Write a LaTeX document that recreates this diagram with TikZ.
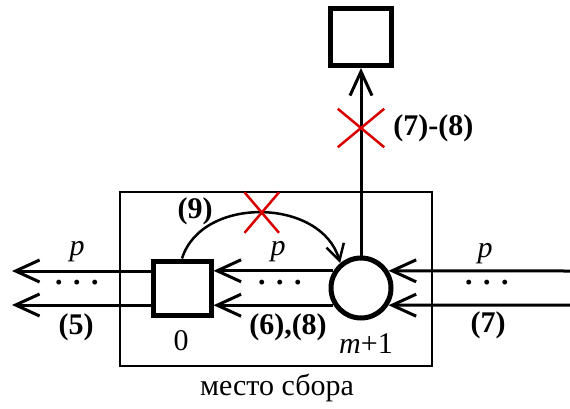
\documentclass[tikz,border=0pt]{standalone}
\usepackage{fontspec}
\setmainfont{Liberation Serif}
\usetikzlibrary{positioning,arrows.meta,shapes.misc}

\tikzset{
  unit/.style={draw, line width=5pt, minimum width=58pt, minimum height=54pt, inner sep=0pt},
  sinkc/.style={draw, circle, line width=5pt, minimum size=60pt, inner sep=0pt},
  flow/.style={line width=3pt, -{Straight Barb[length=24pt,width=22pt,line width=3pt]}},
  hop/.style={line width=2.5pt, -{Straight Barb[length=16pt,width=18pt,line width=2.5pt]}},
  ban/.style={cross out, draw=red!85!black, line width=2.5pt, minimum width=40pt, minimum height=36pt, inner sep=0pt},
  lbl/.style={font=\fontsize{30}{34}\selectfont\bfseries, inner sep=1pt},
  txt/.style={font=\fontsize{30}{34}\selectfont, inner sep=1pt},
}

\begin{document}
\begin{tikzpicture}[x=1pt, y=-1pt]
\useasboundingbox (0,0) rectangle (570,408);
% place
\node[draw, line width=2.5pt, minimum width=312pt, minimum height=174pt] (place) at (276,279) {};
\node[txt] (placename) at (277,388) {место сбора};
% nodes
\node[unit] (sq0) at (182,288) {};
\node[sinkc] (sink) at (361,288) {};
\node[unit, minimum width=61pt, minimum height=57pt] (top) at (361,37) {};
% free ends
\coordinate (outU) at (12,271);
\coordinate (outL) at (12,305);
\coordinate (inU) at (570,271);
\coordinate (inL) at (570,305);
% arrows
\draw[flow] (inU) -- (sink.32);
\draw[flow] (inL) -- (sink.-32);
\draw[flow] (sink.148) -- (sink.148 -| sq0.east);
\draw[flow] (sink.212) -- (sink.212 -| sq0.east);
\draw[flow] (sq0.west |- outU) -- (outU);
\draw[flow] (sq0.west |- outL) -- (outL);
\draw[flow] (sink.north) -- (top.south) node[ban, minimum width=44pt, pos=0.68] (stop) {};
\draw[hop] (sq0.north) .. controls (202,195) and (322,198) .. (sink.130) node[ban, minimum width=32pt, minimum height=38pt, pos=0.5] (skip) {};
% labels
\node[lbl, right=8pt of stop] {(7)-(8)};
\node[lbl] at (195,211) {(9)};
\node[txt] at (77,252) {\textit{p}};
\node[txt] at (278,252) {\textit{p}};
\node[txt] at (485,254) {\textit{p}};
\node[lbl] at (77,286) {·\hspace{8pt}·\hspace{8pt}·};
\node[lbl] at (280,286) {·\hspace{8pt}·\hspace{8pt}·};
\node[lbl] at (487,286) {·\hspace{8pt}·\hspace{8pt}·};
\node[lbl] at (76,327) {(5)};
\node[lbl] at (288,327) {(6),(8)};
\node[lbl] at (488,325) {(7)};
\node[txt] at (181,341) {0};
\node[txt] at (366,344) {\textit{m}+1};
\end{tikzpicture}
\end{document}
